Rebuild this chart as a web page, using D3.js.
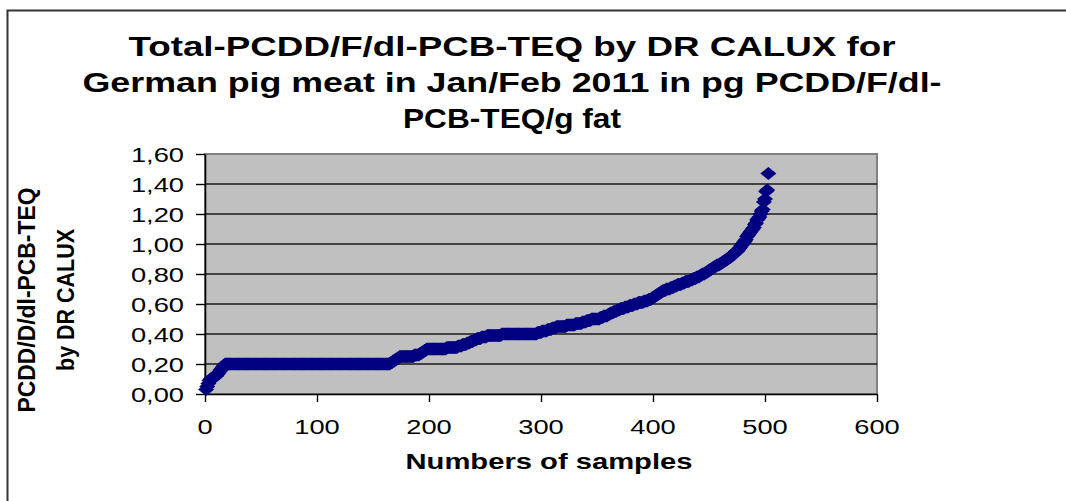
<!DOCTYPE html>
<html>

<head>
    <title>Total-PCDD/F/dl-PCB-TEQ by DR CALUX, German pig meat</title>
    <style>
        body {
            margin: 0;
            background: #fff;
        }

        svg text {
            font-family: "Liberation Sans", Arial, Helvetica, sans-serif;
            fill: #000;
        }
    </style>
    <script src="https://d3js.org/d3.v7.min.js"></script>
</head>

<body>
    <svg width="1066" height="501"></svg>

    <script>

        var titleLines = [
            "Total-PCDD/F/dl-PCB-TEQ by DR CALUX for",
            "German pig meat in Jan/Feb 2011 in pg PCDD/F/dl-",
            "PCB-TEQ/g fat"
        ];
        var xTitle = "Numbers of samples";
        var yTitleLines = ["PCDD/D/dl-PCB-TEQ", "by DR CALUX"];

        var xTicks = [0, 100, 200, 300, 400, 500, 600];
        var yTicks = [0, 0.2, 0.4, 0.6, 0.8, 1.0, 1.2, 1.4, 1.6];

        // sorted TEQ values, one per sample (rank 1..503)
        var teq = [
            0.03, 0.05, 0.07, 0.09, 0.10, 0.10, 0.11, 0.11, 0.12, 0.12, 0.13, 0.14, 0.15, 0.16, 0.17, 0.18, 0.19,
            0.20, 0.20, 0.20, 0.20, 0.20, 0.20, 0.20, 0.20, 0.20, 0.20, 0.20, 0.20, 0.20, 0.20, 0.20, 0.20, 0.20, 0.20, 0.20, 0.20,
            0.20, 0.20, 0.20, 0.20, 0.20, 0.20, 0.20, 0.20, 0.20, 0.20, 0.20, 0.20, 0.20, 0.20, 0.20, 0.20, 0.20, 0.20, 0.20, 0.20,
            0.20, 0.20, 0.20, 0.20, 0.20, 0.20, 0.20, 0.20, 0.20, 0.20, 0.20, 0.20, 0.20, 0.20, 0.20, 0.20, 0.20, 0.20, 0.20, 0.20,
            0.20, 0.20, 0.20, 0.20, 0.20, 0.20, 0.20, 0.20, 0.20, 0.20, 0.20, 0.20, 0.20, 0.20, 0.20, 0.20, 0.20, 0.20, 0.20, 0.20,
            0.20, 0.20, 0.20, 0.20, 0.20, 0.20, 0.20, 0.20, 0.20, 0.20, 0.20, 0.20, 0.20, 0.20, 0.20, 0.20, 0.20, 0.20, 0.20, 0.20,
            0.20, 0.20, 0.20, 0.20, 0.20, 0.20, 0.20, 0.20, 0.20, 0.20, 0.20, 0.20, 0.20, 0.20, 0.20, 0.20, 0.20, 0.20, 0.20, 0.20,
            0.20, 0.20, 0.20, 0.20, 0.20, 0.20, 0.20, 0.20, 0.20, 0.20, 0.20, 0.20, 0.20, 0.20, 0.20, 0.20, 0.20, 0.20, 0.20, 0.20,
            0.20, 0.20, 0.20, 0.20, 0.20, 0.20, 0.20, 0.20,
            0.21, 0.21, 0.22, 0.22, 0.23, 0.23, 0.24, 0.24,
            0.25, 0.25, 0.25, 0.25, 0.25, 0.25, 0.25, 0.25, 0.25, 0.25, 0.25, 0.25, 0.25, 0.26, 0.26, 0.26, 0.26,
            0.26, 0.27, 0.27, 0.28, 0.28, 0.29, 0.29, 0.30, 0.30, 0.30,
            0.30, 0.30, 0.30, 0.30, 0.30, 0.30, 0.30, 0.30, 0.30, 0.30, 0.30, 0.30, 0.30, 0.30, 0.30,
            0.31, 0.31, 0.31, 0.31, 0.31, 0.31, 0.31, 0.31, 0.31, 0.31,
            0.32, 0.32, 0.32, 0.32, 0.33, 0.33, 0.33, 0.33, 0.34, 0.34, 0.34, 0.35, 0.35, 0.35, 0.36,
            0.36, 0.36, 0.37, 0.37, 0.37, 0.37, 0.38, 0.38, 0.38, 0.38,
            0.38, 0.39, 0.39, 0.39, 0.39, 0.39, 0.39, 0.39, 0.39, 0.39, 0.39, 0.39, 0.39, 0.39,
            0.40, 0.40, 0.40, 0.40, 0.40, 0.40, 0.40, 0.40, 0.40, 0.40, 0.40, 0.40, 0.40, 0.40, 0.40, 0.40,
            0.40, 0.40, 0.40, 0.40, 0.40, 0.40, 0.40, 0.40, 0.40, 0.40, 0.40, 0.40, 0.40, 0.40, 0.40,
            0.40, 0.41, 0.41, 0.41, 0.41, 0.42, 0.42, 0.42, 0.42, 0.42, 0.43, 0.43, 0.43, 0.43, 0.44, 0.44, 0.44, 0.44, 0.45, 0.45,
            0.45, 0.45, 0.45, 0.45, 0.45, 0.45, 0.45, 0.46, 0.46, 0.46, 0.46, 0.46, 0.46, 0.46,
            0.46, 0.47, 0.47, 0.47, 0.47, 0.47, 0.47, 0.48, 0.48, 0.48, 0.48, 0.49, 0.49, 0.49,
            0.49, 0.50, 0.50, 0.50, 0.50, 0.50, 0.50, 0.50, 0.50, 0.51, 0.51, 0.51, 0.52, 0.52, 0.52,
            0.52, 0.53, 0.53, 0.54, 0.54, 0.54, 0.55, 0.55, 0.55, 0.56, 0.56, 0.56, 0.57,
            0.57, 0.57, 0.57, 0.58, 0.58, 0.58, 0.58, 0.59, 0.59, 0.59, 0.59, 0.60, 0.60, 0.60, 0.60, 0.61, 0.61, 0.61,
            0.61, 0.61, 0.62, 0.62, 0.62, 0.62, 0.63, 0.63, 0.63, 0.64, 0.64, 0.65, 0.65, 0.66, 0.66,
            0.67, 0.67, 0.68, 0.68, 0.69, 0.69, 0.69, 0.70, 0.70, 0.70, 0.70, 0.71, 0.71, 0.71, 0.72, 0.72, 0.72, 0.73,
            0.73, 0.73, 0.73, 0.74, 0.74, 0.74, 0.75, 0.75, 0.75, 0.75, 0.76, 0.76, 0.76, 0.77, 0.77,
            0.77, 0.78, 0.78, 0.78, 0.79, 0.79, 0.80, 0.80, 0.80, 0.81, 0.81, 0.82, 0.82, 0.83, 0.83,
            0.84, 0.84, 0.85, 0.85, 0.86, 0.86, 0.86, 0.87, 0.87, 0.88, 0.88,
            0.89, 0.89, 0.90, 0.90, 0.91, 0.91, 0.92, 0.93, 0.93,
            0.94, 0.95, 0.95, 0.96, 0.97, 0.98,
            0.99, 1.00, 1.01, 1.02, 1.03,
            1.05, 1.06, 1.07, 1.08, 1.09, 1.10, 1.11,
            1.13, 1.14, 1.16, 1.17, 1.18, 1.20, 1.22,
            1.23, 1.28, 1.30, 1.35, 1.36, 1.47
        ];

        var points = teq.map(function (v, i) { return { n: i + 1, v: v }; });

        var svg = d3.select("svg");
        var sx = 1.3; // the picture is stretched sideways

        var x = d3.scaleLinear().domain([0, 600]).range([205, 877]);
        var y = d3.scaleLinear().domain([0, 1.6]).range([394, 154]);

        // outer chart frame
        svg.append("rect")
            .attr("x", 7.5).attr("y", 10.5)
            .attr("width", 1070).attr("height", 500)
            .attr("fill", "none")
            .attr("stroke", "#333")
            .attr("stroke-width", 2);

        // plot area
        svg.append("rect")
            .attr("x", x(0)).attr("y", y(1.6))
            .attr("width", x(600) - x(0)).attr("height", y(0) - y(1.6))
            .attr("fill", "#c0c0c0")
            .attr("stroke", "#808080")
            .attr("stroke-width", 2);

        // gridlines
        svg.append("g")
            .selectAll("line")
            .data(yTicks.filter(function (d) { return d > 0 && d < 1.6; }))
            .enter().append("line")
            .attr("x1", x(0)).attr("x2", x(600))
            .attr("y1", function (d) { return y(d); })
            .attr("y2", function (d) { return y(d); })
            .attr("stroke", "#1a1a1a")
            .attr("stroke-width", 1.5);

        // axes (lines and ticks)
        var xAxis = svg.append("g")
            .attr("transform", "translate(0," + y(0) + ")")
            .call(d3.axisBottom(x).tickValues(xTicks).tickSize(8).tickSizeOuter(0).tickFormat(""));
        var yAxis = svg.append("g")
            .attr("transform", "translate(" + x(0) + ",0)")
            .call(d3.axisLeft(y).tickValues(yTicks).tickSize(9).tickSizeOuter(0).tickFormat(""));
        [xAxis, yAxis].forEach(function (g) {
            g.select(".domain").attr("stroke", "#000").attr("stroke-width", 1.6);
            g.selectAll(".tick line").attr("stroke", "#000").attr("stroke-width", 1.4);
        });

        // tick labels (stretched to match the picture)
        var fmt = function (d) { return d3.format(".2f")(d).replace(".", ","); };

        svg.append("g")
            .selectAll("text")
            .data(yTicks)
            .enter().append("text")
            .attr("transform", function (d) {
                return "translate(184," + (y(d) + 7.5) + ") scale(" + sx + ",1)";
            })
            .attr("text-anchor", "end")
            .style("font-size", "21px")
            .text(fmt);

        svg.append("g")
            .selectAll("text")
            .data(xTicks)
            .enter().append("text")
            .attr("transform", function (d) {
                return "translate(" + x(d) + ",434) scale(" + sx + ",1)";
            })
            .attr("text-anchor", "middle")
            .style("font-size", "21px")
            .text(function (d) { return d; });

        // series: diamond markers
        var diamond = "M0,-6.5L8,0L0,6.5L-8,0Z";
        svg.append("g")
            .selectAll("path")
            .data(points)
            .enter().append("path")
            .attr("d", diamond)
            .attr("transform", function (d) {
                return "translate(" + x(d.n) + "," + y(d.v) + ")";
            })
            .attr("fill", "#000080");

        // title
        var titleWidths = [767, 859, 218];
        svg.append("g")
            .selectAll("text")
            .data(titleLines)
            .enter().append("text")
            .attr("x", 512)
            .attr("y", function (d, i) { return 56 + i * 36; })
            .attr("text-anchor", "middle")
            .attr("textLength", function (d, i) { return titleWidths[i]; })
            .attr("lengthAdjust", "spacingAndGlyphs")
            .style("font-size", "28px")
            .style("font-weight", "bold")
            .text(function (d) { return d; });

        // x axis title
        svg.append("text")
            .attr("x", 549)
            .attr("y", 469)
            .attr("text-anchor", "middle")
            .attr("textLength", 287)
            .attr("lengthAdjust", "spacingAndGlyphs")
            .style("font-size", "22px")
            .style("font-weight", "bold")
            .text(xTitle);

        // y axis title, two rotated lines
        var yTitleX = [35, 74];
        var yTitleLen = [225, 142];
        svg.append("g")
            .selectAll("text")
            .data(yTitleLines)
            .enter().append("text")
            .attr("transform", function (d, i) {
                return "translate(" + yTitleX[i] + ",300) scale(" + sx + ",1) rotate(-90)";
            })
            .attr("text-anchor", "middle")
            .attr("textLength", function (d, i) { return yTitleLen[i]; })
            .attr("lengthAdjust", "spacingAndGlyphs")
            .style("font-size", "19px")
            .style("font-weight", "bold")
            .text(function (d) { return d; });

    </script>

</body>

</html>
